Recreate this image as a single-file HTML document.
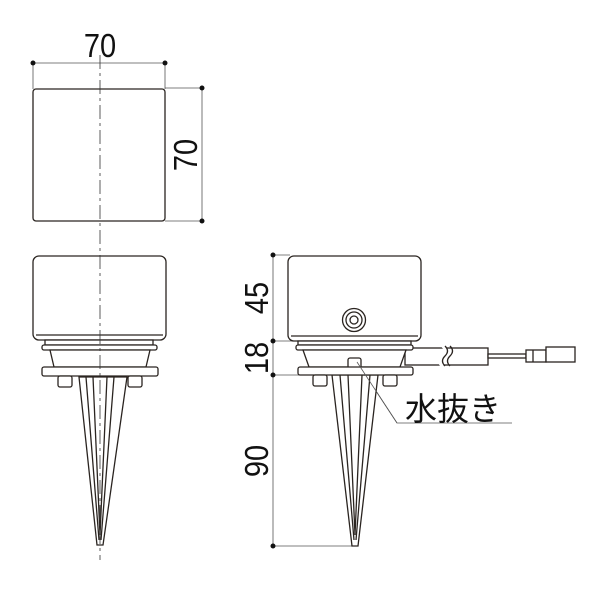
<!DOCTYPE html>
<html><head><meta charset="utf-8"><style>body{margin:0;background:#fff}svg{display:block}</style></head>
<body>
<svg width="600" height="600" viewBox="0 0 600 600" xmlns="http://www.w3.org/2000/svg" font-family="Liberation Sans, sans-serif">
<g stroke="#2a2420" fill="none" stroke-width="1.3">
<rect x="33" y="89" width="132" height="132" rx="3"/>
</g>
<g stroke="#555" stroke-width="0.8" fill="none">
<line x1="33" y1="63" x2="165" y2="63"/><line x1="33" y1="63" x2="33" y2="89"/><line x1="165" y1="63" x2="165" y2="89"/>
<line x1="202" y1="88" x2="202" y2="221"/><line x1="165" y1="88" x2="202" y2="88"/><line x1="165" y1="221" x2="202" y2="221"/>
<line x1="273" y1="255" x2="273" y2="546"/>
<line x1="273" y1="255" x2="290" y2="255"/><line x1="273" y1="341" x2="300" y2="341"/><line x1="273" y1="375" x2="300" y2="375"/><line x1="273" y1="546" x2="355" y2="546"/>
<polyline points="357,362 397,423 512,423"/>
</g>
<g fill="#111">
<circle cx="33" cy="63" r="2.5"/><circle cx="165" cy="63" r="2.5"/>
<circle cx="202" cy="88" r="2.5"/><circle cx="202" cy="221" r="2.5"/>
<circle cx="273" cy="255" r="2.5"/><circle cx="273" cy="341" r="2.5"/><circle cx="273" cy="375" r="2.5"/><circle cx="273" cy="546" r="2.5"/>
</g>
<g font-size="33" fill="#111">
<text transform="translate(100,57) scale(0.88,1)" text-anchor="middle">70</text>
<text transform="translate(197,155) rotate(-90) scale(0.88,1)" text-anchor="middle">70</text>
<text transform="translate(268,298) rotate(-90) scale(0.88,1)" text-anchor="middle">45</text>
<text transform="translate(268,358) rotate(-90) scale(0.88,1)" text-anchor="middle">18</text>
<text transform="translate(268,461) rotate(-90) scale(0.88,1)" text-anchor="middle">90</text>
</g>
<text x="405" y="420" font-size="32" fill="#111" font-family="Liberation Sans, Noto Sans CJK JP, sans-serif">水抜き</text>

<g stroke="#2a2420" fill="#fff" stroke-width="1.3">
<path d="M79,377 L127,377 L103,545 L97,545 Z"/>
<path d="M86,377 L99,540 M114,377 L101,540 M93,377 L100,535 M107,377 L100,535" fill="none"/>
<rect x="33" y="256" width="133" height="84" rx="6"/>
<line x1="36" y1="335" x2="163" y2="335" fill="none"/>
<rect x="45" y="340" width="108" height="5" />
<rect x="42" y="345" width="115" height="5" rx="2"/>
<path d="M50,350 L54,367 L146,367 L150,350 Z"/>
<rect x="42" y="367" width="116" height="9" rx="2"/>
<rect x="58" y="376" width="14" height="11" rx="2"/>
<rect x="128" y="376" width="14" height="11" rx="2"/>
</g>
<line x1="100" y1="55" x2="100" y2="560" stroke="#333" stroke-width="0.8" stroke-dasharray="14,4,3,4"/>

<g stroke="#2a2420" fill="#fff" stroke-width="1.3">
<path d="M332,375 L378,375 L358,546 L352,546 Z"/>
<path d="M340,375 L354,540 M370,375 L356,540 M348,375 L355,535 M362,375 L355,535" fill="none"/>
<rect x="405" y="348" width="83" height="17"/>
<rect x="488" y="354" width="38" height="4"/>
<rect x="526" y="350" width="20" height="12"/>
<rect x="546" y="347" width="29" height="15"/>
<line x1="533" y1="350" x2="533" y2="362"/>
<path d="M443,346 q6,5 0,10 q-6,5 0,10" fill="#fff" stroke="#fff" stroke-width="4"/>
<path d="M445,346 q5,5 0,10 q-5,5 0,10 M450,346 q5,5 0,10 q-5,5 0,10" fill="none"/>
<rect x="288" y="256" width="133" height="85" rx="6"/>
<line x1="291" y1="336" x2="418" y2="336" fill="none"/>
<rect x="298" y="341" width="113" height="4"/>
<rect x="296" y="345" width="117" height="5" rx="2"/>
<path d="M303,350 L309,367 L400,367 L406,350 Z"/>
<rect x="348" y="358" width="13" height="10" rx="2"/>
<rect x="298" y="367" width="115" height="8" rx="2"/>
<rect x="313" y="375" width="14" height="11" rx="2"/>
<rect x="383" y="375" width="14" height="11" rx="2"/>
<circle cx="354" cy="320" r="11.5"/>
<circle cx="354" cy="320" r="8"/>
<circle cx="354" cy="320" r="4"/>
</g>
<line x1="357" y1="362" x2="397" y2="423" stroke="#555" stroke-width="0.8"/>
</svg>
</body></html>
